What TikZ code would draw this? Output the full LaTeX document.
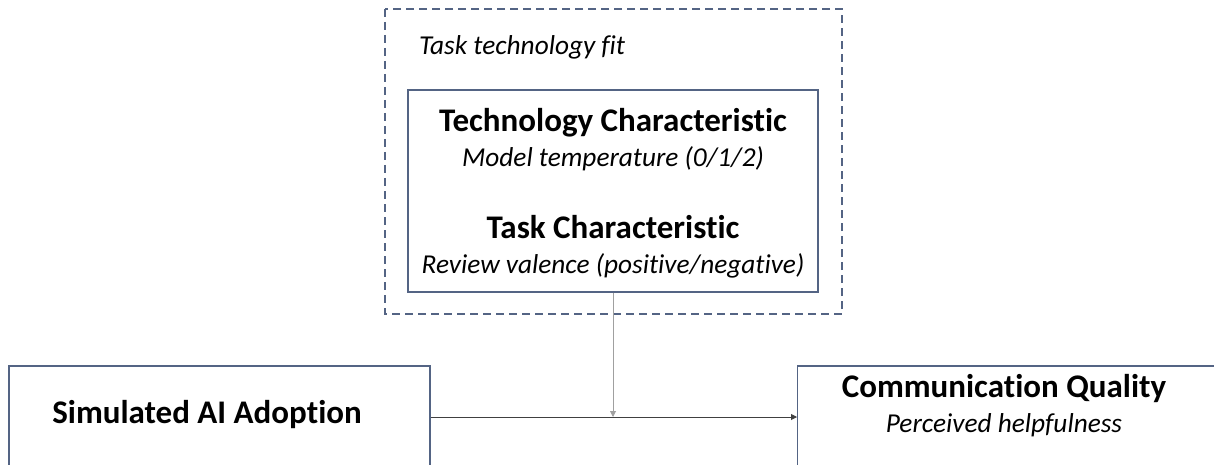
\documentclass[tikz,border=0pt]{standalone}
\usepackage{fontspec}
\setmainfont[Ligatures=NoCommon]{Carlito}
\usepackage{xcolor}
\usetikzlibrary{positioning, arrows.meta, calc}
\definecolor{boxblue}{RGB}{84,100,132}
\definecolor{lightline}{RGB}{160,160,160}
\definecolor{darkline}{RGB}{64,64,64}

\begin{document}
\begin{tikzpicture}[x=1pt, y=-1pt,
		varbox/.style={draw=boxblue, line width=1.4pt, inner sep=0pt}, % construct boxes
		fitbox/.style={draw=boxblue, line width=1.3pt, dash pattern=on 8pt off 5pt}, % dashed frame
		title/.style={font=\fontsize{33}{38}\selectfont\bfseries, inner sep=0pt, anchor=base},
		subtitle/.style={font=\fontsize{27.3}{32}\selectfont\itshape, inner sep=0pt, anchor=base},
		link/.style={line width=0.9pt, -{Triangle[width=6pt,length=6pt]}}
		]
		\useasboundingbox (0,0) rectangle (1214,465);
		\clip (0,0) rectangle (1214,465);
		% Task technology fit frame
		\draw[fitbox] (385,9) rectangle (842,314);
		\node[subtitle, anchor=base west] (fitlabel) at (419,55) {Task technology fit};
		% Moderator box
		\node[varbox, minimum width=410pt, minimum height=202pt] (moderator) at (613,191) {};
		\node[title] (techchar) at (613,132) {Technology Characteristic};
		\node[subtitle] (techsub) at (613,167) {Model temperature (0/1/2)};
		\node[title] (taskchar) at (613,238) {Task Characteristic};
		\node[subtitle] (tasksub) at (613,273) {Review valence (positive/negative)};
		% Independent and dependent variable
		\node[varbox, minimum width=421pt, minimum height=102pt] (adoption) at (219.5,417) {};
		\node[title] (adoptlabel) at (207,423) {Simulated AI Adoption};
		\node[varbox, minimum width=440pt, minimum height=102pt, anchor=west] (quality) at (797,417) {};
		\node[title] (qualitylabel) at (1004,397) {Communication Quality};
		\node[subtitle] (qualitysub) at (1004,432) {Perceived helpfulness};
		% Connectors
		\coordinate (meet) at (moderator.south |- adoption.east);
		\draw[link, darkline] (adoption.east) -- (quality.west);
		\draw[link, lightline] (moderator.south) -- (meet);
	\end{tikzpicture}
\end{document}
